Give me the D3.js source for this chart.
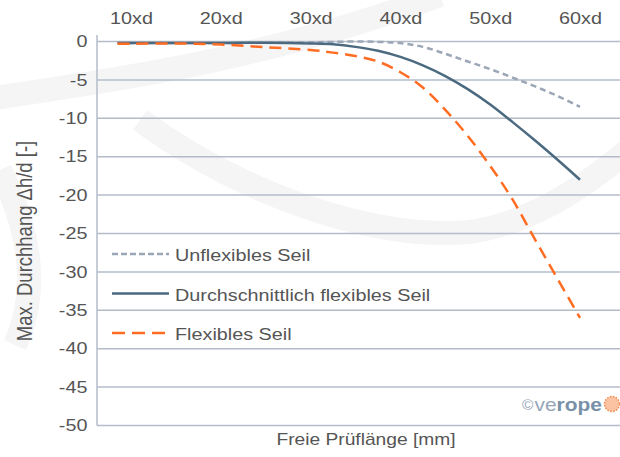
<!DOCTYPE html>
<html>
<head>
<meta charset="utf-8">
<script src="https://cdn.jsdelivr.net/npm/d3@7"></script>
<style>
  html, body { margin: 0; padding: 0; background: #fff; }
  svg { display: block; font-family: "Liberation Sans", Arial, sans-serif; }
</style>
</head>
<body>
<div id="chart"></div>
<script>
// x positions (in "xd"), shared by all three series
const xValues = [8.5, 10, 15, 20, 25, 30, 32.5, 35, 37.5, 40, 42.5, 45, 47.5, 50, 52.5, 55, 57.5, 60];
const unflexibel = [-0.2, -0.2, -0.2, -0.2, -0.15, -0.1, -0.05, 0, -0.05, -0.2, -0.7, -1.6, -2.6, -3.6, -4.7, -5.85, -7.1, -8.5];
const durchschnitt = [-0.2, -0.2, -0.2, -0.2, -0.15, -0.25, -0.37, -0.7, -1.2, -2.0, -3.1, -4.5, -6.2, -8.2, -10.5, -12.9, -15.4, -18.0];
const flexibel = [-0.3, -0.3, -0.25, -0.4, -0.75, -1.1, -1.45, -1.9, -2.6, -4.0, -6.0, -8.9, -12.3, -16.2, -20.6, -25.8, -30.9, -36.0];

const xTicks = [10, 20, 30, 40, 50, 60];
const yTicks = [0, -5, -10, -15, -20, -25, -30, -35, -40, -45, -50];

const seriesNames = ["Unflexibles Seil", "Durchschnittlich flexibles Seil", "Flexibles Seil"];

(() => {
    const width = 620, height = 457;
    const plot = { left: 97, right: 620, top: 41.5, bottom: 425.5 };
    const stretch = "scale(1.2,1)";   // the original type runs wide
    const textColor = "#555";

    const series = [
        { name: seriesNames[0], values: unflexibel, color: "#9ba6b7", dash: "6,4", legendDash: "6,3" },
        { name: seriesNames[1], values: durchschnitt, color: "#4b6a80", dash: null, legendDash: null },
        { name: seriesNames[2], values: flexibel, color: "#ff6c22", dash: "12,7", legendDash: "13,7" }
    ];

    const x = d3.scaleLinear().domain([10, 60]).range([131, 580]);
    const y = d3.scaleLinear().domain([-50, 0]).range([plot.bottom, plot.top]);

    const svg = d3.select("#chart").append("svg")
        .attr("width", width)
        .attr("height", height);

    // faint background swooshes
    const bg = svg.append("g").attr("fill", "none").attr("stroke", "#f5f5f5").attr("stroke-width", 24);
    bg.append("path").attr("d", "M-20,100 C100,82 260,62 440,-5");
    bg.append("path").attr("d", "M140,120 C250,200 380,240 470,232 C540,222 600,175 640,140");
    bg.append("path").attr("d", "M0,170 C30,230 40,290 15,345");

    // gridlines
    svg.append("g")
        .selectAll("line")
        .data(yTicks)
        .join("line")
        .attr("x1", plot.left)
        .attr("x2", plot.right)
        .attr("y1", d => y(d))
        .attr("y2", d => y(d))
        .attr("stroke", "#b4bcc8")
        .attr("stroke-width", 1.5);

    // left axis line
    svg.append("line")
        .attr("x1", plot.left).attr("x2", plot.left)
        .attr("y1", 35).attr("y2", plot.bottom)
        .attr("stroke", "#b4bcc8")
        .attr("stroke-width", 1.5);

    // y tick labels
    const yAxis = svg.append("g")
        .attr("transform", `translate(${plot.left},0)`)
        .call(d3.axisLeft(y).tickValues(yTicks).tickSize(0).tickPadding(8).tickFormat(d => d));
    yAxis.select(".domain").remove();
    yAxis.selectAll("text")
        .attr("fill", textColor)
        .style("font-size", "16.5px")
        .attr("transform", stretch);

    // x tick labels on top
    const xAxis = svg.append("g")
        .attr("transform", "translate(0,24)")
        .call(d3.axisTop(x).tickValues(xTicks).tickSize(0).tickPadding(0).tickFormat(d => d + "xd"));
    xAxis.select(".domain").remove();
    xAxis.selectAll("text")
        .attr("fill", textColor)
        .attr("dy", 0)
        .style("font-size", "16.5px")
        .attr("transform", stretch);

    // axis titles
    svg.append("text")
        .attr("transform", `translate(366,445) ${stretch}`)
        .attr("text-anchor", "middle")
        .attr("fill", textColor)
        .style("font-size", "16px")
        .text("Freie Prüflänge [mm]");

    svg.append("text")
        .attr("transform", "translate(32,241) rotate(-90) scale(1,1.15)")
        .attr("text-anchor", "middle")
        .attr("fill", textColor)
        .style("font-size", "18.5px")
        .text("Max. Durchhang Δh/d [-]");

    // series lines
    const line = d3.line()
        .x(d => x(d[0]))
        .y(d => y(d[1]))
        .curve(d3.curveCatmullRom.alpha(0.5));

    series.forEach(s => {
        svg.append("path")
            .datum(xValues.map((xv, i) => [xv, s.values[i]]))
            .attr("fill", "none")
            .attr("stroke", s.color)
            .attr("stroke-width", 2.5)
            .attr("stroke-dasharray", s.dash)
            .attr("d", line);
    });

    // legend
    const legend = svg.append("g").attr("transform", "translate(112,254)");
    legend.selectAll("g")
        .data(series)
        .join("g")
        .attr("transform", (d, i) => `translate(0,${i * 39.5})`)
        .each(function(d) {
            const g = d3.select(this);
            g.append("line")
                .attr("x1", 0).attr("x2", 57)
                .attr("stroke", d.color)
                .attr("stroke-width", 2.5)
                .attr("stroke-dasharray", d.legendDash);
            g.append("text")
                .attr("transform", `translate(63,7) ${stretch}`)
                .attr("fill", textColor)
                .style("font-size", "16.5px")
                .text(d.name);
        });

    // verope mark
    const logo = svg.append("g").attr("transform", "translate(522,411)");
    const logoText = logo.append("text")
        .attr("transform", "scale(1.1,1)")
        .style("font-size", "19px")
        .attr("fill", "#96a6b8");
    logoText.append("tspan").style("font-size", "14px").attr("dy", -1).text("©");
    logoText.append("tspan").attr("dy", 1).attr("dx", 1).text("ve");
    logoText.append("tspan").style("font-weight", "bold").attr("fill", "#7890a8").text("rope");
    logo.append("circle")
        .attr("cx", 90).attr("cy", -7).attr("r", 7.5)
        .attr("fill", "#fbc3a1")
        .attr("stroke", "#f7884a")
        .attr("stroke-width", 1.5)
        .attr("stroke-dasharray", "1.5,1.5");
})();
</script>
</body>
</html>
